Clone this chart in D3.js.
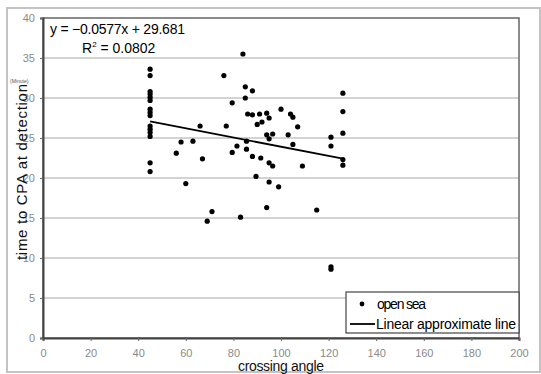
<!DOCTYPE html>
<html>
<head>
<meta charset="utf-8">
<script src="https://cdn.jsdelivr.net/npm/d3@7"></script>
<style>
  body { margin: 0; background: #fff; }
  svg { display: block; }
</style>
</head>
<body>
<div id="chart"></div>
<script>
// crossing angle (deg) and time to CPA at detection (minute)
const angles = [
  45, 45, 45, 45, 45, 45, 45, 45, 45, 45, 45, 45, 45, 45, 45,
  56, 58, 60, 63, 66, 67, 69, 71, 76, 77, 79.5, 79.5, 81.5, 83, 84,
  85, 85, 85.5, 85.5, 86, 88, 88, 88, 89.5, 90, 91, 91.5, 92, 94, 94,
  94, 95, 95, 95, 95, 96.5, 96.5, 99, 100, 103, 104, 105, 105, 107, 109,
  115, 121, 121, 121, 121, 126, 126, 126, 126, 126
];
const times = [
  33.6, 32.8, 30.8, 30.5, 30.1, 29.7, 28.6, 28.2, 27.8, 26.5, 26.1, 25.7, 25.2, 21.9, 20.8,
  23.1, 24.5, 19.3, 24.6, 26.5, 22.4, 14.6, 15.8, 32.8, 26.5, 29.4, 23.2, 24.0, 15.1, 35.5,
  31.4, 30.0, 24.6, 23.6, 28.0, 30.9, 27.9, 22.7, 20.2, 26.7, 28.0, 22.5, 27.0, 28.1, 25.4,
  16.3, 27.5, 24.9, 21.9, 19.5, 25.5, 21.5, 18.9, 28.6, 25.4, 28.0, 27.6, 24.2, 26.4, 21.5,
  16.0, 25.1, 24.0, 8.9, 8.6, 30.6, 28.3, 25.6, 22.3, 21.6
];
const slope = -0.0577;
const intercept = 29.681;
const fitRange = [45, 126];
const xTicks = [0, 20, 40, 60, 80, 100, 120, 140, 160, 180, 200];
const yTicks = [0, 5, 10, 15, 20, 25, 30, 35, 40];
const legendLabels = ['open sea', 'Linear approximate line'];

const width = 541, height = 374;
const margin = { top: 18, right: 22, bottom: 36, left: 43 };

const svg = d3.select('#chart').append('svg')
  .attr('width', width)
  .attr('height', height);

// outer chart frame
svg.append('rect')
  .attr('x', 7).attr('y', 8)
  .attr('width', 540 - 7).attr('height', 372 - 8)
  .attr('fill', '#fff')
  .attr('stroke', '#c4c4c4')
  .attr('stroke-width', 2);

const x = d3.scaleLinear().domain([0, 200]).range([margin.left, width - margin.right]);
const y = d3.scaleLinear().domain([0, 40]).range([height - margin.bottom, margin.top]);

// gridlines
svg.append('g')
  .selectAll('line')
  .data(yTicks.slice(1, -1))
  .enter()
  .append('line')
  .attr('x1', x(0)).attr('x2', x(200))
  .attr('y1', d => y(d)).attr('y2', d => y(d))
  .attr('stroke', '#a8a8a8')
  .attr('stroke-width', 1.2);

// plot frame
svg.append('rect')
  .attr('x', x(0)).attr('y', y(40))
  .attr('width', x(200) - x(0)).attr('height', y(0) - y(40))
  .attr('fill', 'none')
  .attr('stroke', '#666')
  .attr('stroke-width', 1.5);

// axes
const xAxis = svg.append('g')
  .attr('transform', `translate(0,${y(0)})`)
  .call(d3.axisBottom(x).tickValues(xTicks).tickSize(3).tickPadding(8));
const yAxis = svg.append('g')
  .attr('transform', `translate(${x(0)},0)`)
  .call(d3.axisLeft(y).tickValues(yTicks).tickSize(3).tickPadding(5));

[xAxis, yAxis].forEach(g => {
  g.select('.domain').attr('stroke', '#444').attr('stroke-width', 2);
  g.selectAll('.tick line').attr('stroke', '#666');
  g.selectAll('.tick text')
    .attr('fill', '#8a8a8a')
    .style('font-family', '"Liberation Sans Narrow", "Liberation Sans", sans-serif')
    .style('font-size', '11px');
});
yAxis.selectAll('.tick text').attr('dy', '0.32em');

// points
svg.append('g')
  .selectAll('circle')
  .data(angles.map((a, i) => [a, times[i]]))
  .enter()
  .append('circle')
  .attr('cx', d => x(d[0]))
  .attr('cy', d => y(d[1]))
  .attr('r', 2.6)
  .attr('fill', '#000');

// linear approximate line
svg.append('line')
  .attr('x1', x(fitRange[0])).attr('y1', y(slope * fitRange[0] + intercept))
  .attr('x2', x(fitRange[1])).attr('y2', y(slope * fitRange[1] + intercept))
  .attr('stroke', '#000')
  .attr('stroke-width', 1.8);

// equation
const eq = svg.append('g')
  .style('font-family', '"Liberation Sans", Arial, sans-serif')
  .style('font-size', '14px')
  .attr('fill', '#000');
eq.append('text')
  .attr('x', 50).attr('y', 34)
  .attr('textLength', 135)
  .text(`y = \u2212${Math.abs(slope)}x + ${intercept}`);
const r2 = eq.append('text').attr('x', 82).attr('y', 53);
r2.append('tspan').text('R');
r2.append('tspan').attr('dy', -6).style('font-size', '8px').text('2');
r2.append('tspan').attr('dy', 6).text(' = 0.0802');

// units
svg.append('text')
  .attr('x', 10).attr('y', 83)
  .style('font-family', '"Liberation Sans", sans-serif')
  .style('font-size', '5px')
  .attr('fill', '#555')
  .text('(Minute)');

// axis titles
svg.append('text')
  .attr('transform', 'translate(27,172) rotate(-90)')
  .attr('text-anchor', 'middle')
  .attr('textLength', 176)
  .style('font-family', '"Liberation Sans", sans-serif')
  .style('font-size', '15px')
  .attr('fill', '#111')
  .text('time to CPA at detection');
svg.append('text')
  .attr('x', 238).attr('y', 371)
  .attr('textLength', 86)
  .style('font-family', '"Liberation Sans", sans-serif')
  .style('font-size', '14px')
  .attr('fill', '#111')
  .text('crossing angle');

// legend
const lg = svg.append('g');
lg.append('rect')
  .attr('x', 346).attr('y', 292)
  .attr('width', x(200) - 346).attr('height', 41)
  .attr('fill', '#fff')
  .attr('stroke', '#444')
  .attr('stroke-width', 1.2);
lg.append('circle').attr('cx', 362).attr('cy', 304).attr('r', 2.4).attr('fill', '#000');
lg.append('line')
  .attr('x1', 350).attr('x2', 375)
  .attr('y1', 324).attr('y2', 324)
  .attr('stroke', '#000').attr('stroke-width', 1.8);
lg.selectAll('text.item')
  .data(legendLabels)
  .enter()
  .append('text')
  .attr('class', 'item')
  .attr('x', (d, i) => i === 0 ? 377 : 376)
  .attr('y', (d, i) => 309 + i * 20)
  .attr('textLength', (d, i) => i === 0 ? 49 : 140)
  .style('font-family', '"Liberation Sans", sans-serif')
  .style('font-size', '14px')
  .attr('fill', '#000')
  .text(d => d);
</script>
</body>
</html>
